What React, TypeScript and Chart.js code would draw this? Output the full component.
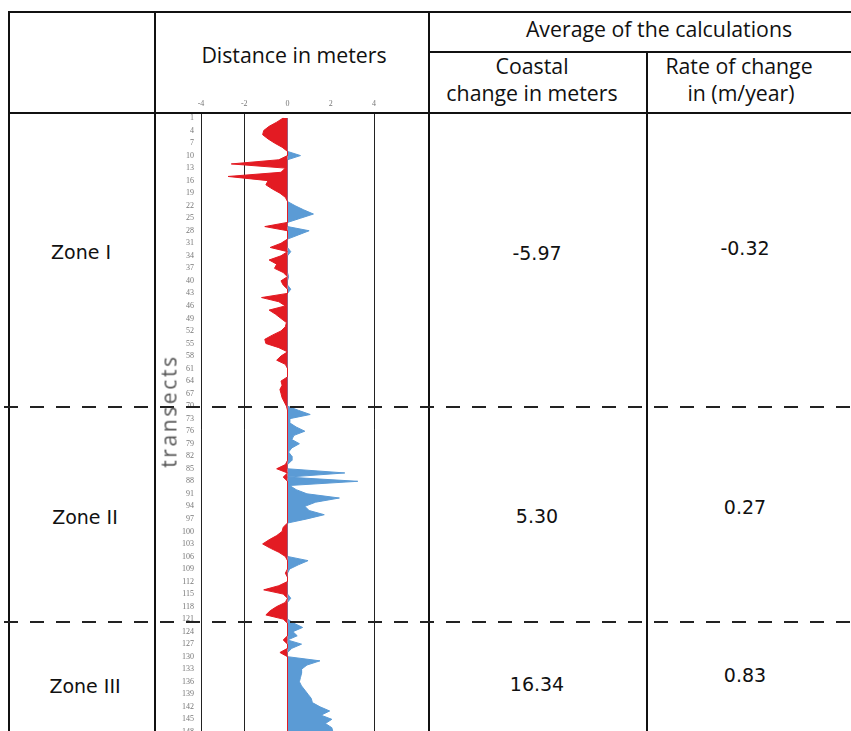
import React, { useEffect, useRef } from "react";
import { Chart, registerables } from "chart.js";

Chart.register(...registerables);

// ---------- data ----------
const TRANSECTS: string[] = Array.from({ length: 150 }, (_, i) => String(i + 1));

// distance in meters per transect (negative = erosion, positive = accretion)
const DISTANCE: number[] = [
  -0.2, -0.5, -0.85, -1.1, -1.15, -0.9, -0.6, -0.25, 0, 0.6,
  -0.4, -2.6, -0.1, -0.3, -2.75, -0.9, -1.0, -0.7, -0.35, -0.1,
  0, 0.35, 0.75, 1.2, 0.6, 0, -1.05, 1.0, 0.5, 0,
  -0.3, -0.8, 0.15, -0.3, -0.85, -0.5, -0.6, -0.2, 0.05, -0.3,
  -0.2, 0.15, 0, -1.2, -0.4, -0.1, -0.85, -0.55, -0.3, -0.05,
  -0.1, -0.3, -0.7, -1.05, -1.0, -0.4, 0, -0.3, -0.5, -0.1,
  0, 0, 0, -0.3, -0.25, -0.35, -0.3, -0.25, -0.15, -0.05,
  0.5, 1.05, 0.1, 0.1, 0.4, 0.8, 0.3, 0.2, 0.55, 0.2,
  0.05, 0.2, 0.2, -0.1, -0.5, 2.65, -0.2, 3.25, 0.1, 0.4,
  0.9, 2.4, 1.3, 0.8, 1.0, 1.7, 0.9, 0, -0.2, -0.25,
  -0.5, -0.85, -1.15, -0.8, -0.4, -0.1, 0.95, 0.5, 0.1, -0.1,
  0, 0, -0.4, -1.1, -0.2, 0.15, -0.1, -0.5, -0.8, -1.0,
  -0.2, 0.3, 0.7, 0.25, 0.45, -0.2, 0.65, 0.2, -0.35, 0,
  1.5, 0.9, 0.65, 0.65, 0.6, 0.55, 0.65, 0.8, 0.95, 1.1,
  1.15, 1.5, 1.95, 1.55, 2.05, 1.75, 2.05, 2.1, 1.8, 1.6,
];

const X_MIN = -4;
const X_MAX = 4;
const X_STEP = 2;
const GRID_VALUES = [-4, -2, 4];

const ZONES = ["Zone I", "Zone II", "Zone III"];
const COASTAL_CHANGE = ["-5.97", "5.30", "16.34"];
const RATE_OF_CHANGE = ["-0.32", "0.27", "0.83"];

const RED = "#e31b23";
const BLUE = "#5b9bd5";

// ---------- layout helpers ----------
const LINE = "#111";

function HLine({ top, left, right, h = 2 }: { top: number; left: number; right: number; h?: number }) {
  return (
    <div style={{ position: "absolute", top, left, width: right - left, height: h, background: LINE }} />
  );
}
function VLine({ left, top, bottom, w = 2 }: { left: number; top: number; bottom: number; w?: number }) {
  return (
    <div style={{ position: "absolute", left, top, width: w, height: bottom - top, background: LINE }} />
  );
}
function Dashed({ top }: { top: number }) {
  return (
    <div
      style={{
        position: "absolute",
        top,
        left: 4,
        width: 851 - 4,
        height: 2,
        background: "repeating-linear-gradient(to right, #222 0px, #222 14px, transparent 14px, transparent 26px)",
      }}
    />
  );
}
function Text({
  x, y, children, font, size, color = "#111", extra = {},
}: { x: number; y: number; children: React.ReactNode; font: string; size: number; color?: string; extra?: React.CSSProperties }) {
  return (
    <div
      style={{
        position: "absolute",
        left: x,
        top: y,
        transform: "translate(-50%, -50%)",
        whiteSpace: "nowrap",
        fontFamily: font,
        fontSize: size,
        lineHeight: 1,
        color,
        ...extra,
      }}
    >
      {children}
    </div>
  );
}

const HEAD_FONT = "'Open Sans', sans-serif";
const BODY_FONT = "'DejaVu Sans', Verdana, sans-serif";

function DistanceChart() {
  const ref = useRef<HTMLCanvasElement | null>(null);
  useEffect(() => {
    if (!ref.current) return;
    const neg = DISTANCE.map((v) => (v < 0 ? v : 0));
    const pos = DISTANCE.map((v) => (v > 0 ? v : 0));
    const chart = new Chart(ref.current, {
      type: "line",
      data: {
        labels: TRANSECTS,
        datasets: [
          {
            data: neg,
            borderColor: RED,
            backgroundColor: RED,
            fill: "origin",
            borderWidth: 1,
            pointRadius: 0,
            tension: 0,
          },
          {
            data: pos,
            borderColor: BLUE,
            backgroundColor: BLUE,
            fill: "origin",
            borderWidth: 1,
            pointRadius: 0,
            tension: 0,
          },
        ],
      },
      options: {
        indexAxis: "y",
        animation: false,
        responsive: false,
        maintainAspectRatio: false,
        layout: { padding: { right: 10, left: 0, top: 0, bottom: 0 } },
        plugins: { legend: { display: false }, tooltip: { enabled: false } },
        scales: {
          x: {
            type: "linear",
            position: "top",
            min: X_MIN,
            max: X_MAX,
            ticks: {
              stepSize: X_STEP,
              font: { size: 8, family: "'Liberation Serif', serif" },
              color: "#777",
              padding: 3,
            },
            grid: {
              color: (ctx: any) =>
                ctx.tick && GRID_VALUES.includes(ctx.tick.value) ? "#222" : "rgba(0,0,0,0)",
              tickLength: 6,
              drawTicks: true,
              lineWidth: 1,
            },
            border: { display: false },
            afterFit: (s: any) => {
              s.height = 23;
            },
          },
          y: {
            type: "category",
            ticks: {
              autoSkip: false,
              callback: (_v: any, i: number) => (i % 3 === 0 ? TRANSECTS[i] : ""),
              font: { size: 8, family: "'Liberation Serif', serif" },
              color: "#777",
              padding: 7,
            },
            grid: { display: false, drawTicks: false },
            border: { display: false },
            afterFit: (s: any) => {
              s.width = 44;
            },
          },
        },
      },
    } as any);
    return () => chart.destroy();
  }, []);
  return (
    <canvas
      ref={ref}
      width={227}
      height={657}
      style={{ position: "absolute", left: 157, top: 95, width: 227, height: 657 }}
    />
  );
}

export default function App() {
  const zoneY = [252, 517, 686];
  const coastalY = [253, 516, 684];
  const rateY = [248, 507, 675];
  return (
    <div
      style={{
        position: "fixed",
        left: 0,
        top: 0,
        width: 851,
        height: 731,
        overflow: "hidden",
        background: "#fff",
      }}
    >
      <DistanceChart />

      {/* table lines */}
      <HLine top={11} left={8} right={851} />
      <HLine top={51} left={428} right={851} />
      <HLine top={112} left={8} right={851} />
      <VLine left={8} top={11} bottom={731} />
      <VLine left={154} top={11} bottom={731} />
      <VLine left={428} top={11} bottom={731} />
      <VLine left={646} top={51} bottom={731} />
      <Dashed top={406} />
      <Dashed top={621} />

      {/* header text */}
      <Text x={294} y={55} font={HEAD_FONT} size={21.3}>Distance in meters</Text>
      <Text x={659} y={29} font={HEAD_FONT} size={21.3}>Average of the calculations</Text>
      <Text x={532} y={66} font={HEAD_FONT} size={21.3}>Coastal</Text>
      <Text x={532} y={93} font={HEAD_FONT} size={21.3}>change in meters</Text>
      <Text x={739} y={66} font={HEAD_FONT} size={21.3}>Rate of change</Text>
      <Text x={741} y={93} font={HEAD_FONT} size={21.3}>in (m/year)</Text>

      {/* axis title */}
      <Text
        x={169}
        y={411}
        font={HEAD_FONT}
        size={21}
        color="#555"
        extra={{ transform: "translate(-50%, -50%) rotate(-90deg)", letterSpacing: 2.6 }}
      >
        transects
      </Text>

      {/* body text */}
      {ZONES.map((z, i) => (
        <Text key={z} x={i === 0 ? 81 : 85} y={zoneY[i]} font={BODY_FONT} size={19}>
          {z}
        </Text>
      ))}
      {COASTAL_CHANGE.map((c, i) => (
        <Text key={c} x={537} y={coastalY[i]} font={BODY_FONT} size={19}>
          {c}
        </Text>
      ))}
      {RATE_OF_CHANGE.map((r, i) => (
        <Text key={r} x={745} y={rateY[i]} font={BODY_FONT} size={19}>
          {r}
        </Text>
      ))}
    </div>
  );
}
